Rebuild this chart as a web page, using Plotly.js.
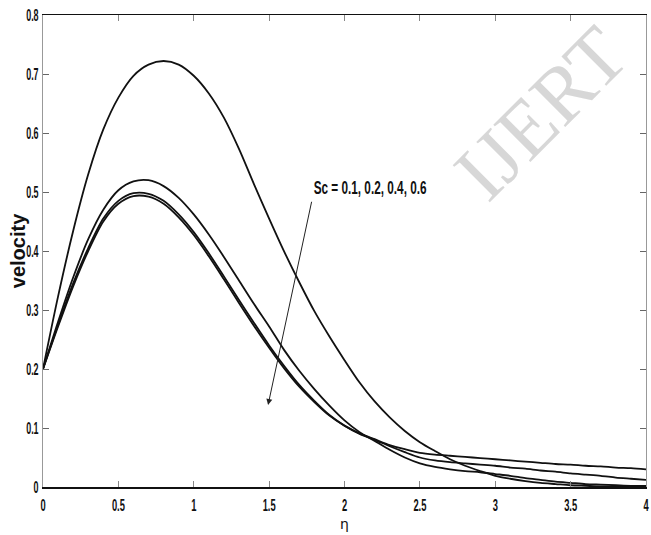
<!DOCTYPE html>
<html>
<head>
<meta charset="utf-8">
<script src="https://cdn.plot.ly/plotly-3.0.1.min.js"></script>
<style>html,body{margin:0;padding:0;background:#fff;}#chart{width:651px;height:535px;}</style>
</head>
<body>
<div id="chart"></div>
<script>
// eta grid (0 .. 4 step 0.1)
const eta = [0,0.1,0.2,0.3,0.4,0.5,0.6,0.7,0.8,0.9,1.0,1.1,1.2,1.3,1.4,1.5,1.6,1.7,1.8,1.9,2.0,
             2.1,2.2,2.3,2.4,2.5,2.6,2.7,2.8,2.9,3.0,3.1,3.2,3.3,3.4,3.5,3.6,3.7,3.8,3.9,4.0];

// velocity profiles for Sc = 0.1, 0.2, 0.4, 0.6
const velSc01 = [0.200,0.323,0.434,0.530,0.606,0.660,0.697,0.716,0.722,0.716,0.697,
                 0.667,0.626,0.573,0.513,0.455,0.399,0.347,0.298,0.255,0.215,
                 0.177,0.145,0.118,0.095,0.076,0.061,0.047,0.036,0.027,0.019,
                 0.014,0.010,0.007,0.005,0.003,0.002,0.001,0.001,0.0005,0.000];
const velSc02 = [0.200,0.280,0.355,0.420,0.470,0.503,0.518,0.520,0.510,0.490,0.462,
                 0.428,0.390,0.350,0.310,0.272,0.232,0.197,0.166,0.138,0.113,
                 0.093,0.078,0.063,0.050,0.040,0.034,0.030,0.027,0.025,0.022,
                 0.019,0.015,0.012,0.009,0.007,0.005,0.004,0.003,0.002,0.002];
const velSc04 = [0.200,0.275,0.345,0.405,0.455,0.485,0.498,0.497,0.485,0.462,0.432,
                 0.396,0.357,0.317,0.278,0.240,0.205,0.173,0.146,0.122,0.104,
                 0.090,0.080,0.069,0.059,0.050,0.045,0.042,0.040,0.038,0.036,
                 0.033,0.031,0.028,0.026,0.023,0.021,0.019,0.016,0.014,0.012];
const velSc06 = [0.200,0.272,0.340,0.400,0.450,0.480,0.493,0.492,0.480,0.457,0.427,
                 0.391,0.352,0.312,0.273,0.236,0.201,0.170,0.144,0.121,0.104,
                 0.091,0.081,0.071,0.064,0.058,0.055,0.053,0.051,0.049,0.047,
                 0.045,0.043,0.041,0.039,0.038,0.036,0.035,0.033,0.032,0.030];

const xTicks = [0,0.5,1,1.5,2,2.5,3,3.5,4];
const xTickText = ['0','0.5','1','1.5','2','2.5','3','3.5','4'];
const yTicks = [0,0.1,0.2,0.3,0.4,0.5,0.6,0.7,0.8];
const yTickText = ['0','0.1','0.2','0.3','0.4','0.5','0.6','0.7','0.8'];

const scLabel = 'Sc = 0.1, 0.2, 0.4, 0.6';
const arrowTail = [1.784, 0.486];
const arrowHead = [1.493, 0.139];

const series = [velSc01, velSc02, velSc04, velSc06];
const names = ['Sc = 0.1','Sc = 0.2','Sc = 0.4','Sc = 0.6'];

const traces = series.map((v,i) => ({
  x: eta, y: v, type: 'scatter', mode: 'lines', name: names[i],
  line: {color: '#111', width: 1.8, shape: 'spline', smoothing: 0.8}
}));

const narrow = 'Liberation Sans, Arial, sans-serif';

const layout = {
  width: 651, height: 535,
  margin: {l: 43, r: 5, t: 15, b: 48},
  paper_bgcolor: '#fff', plot_bgcolor: '#fff',
  showlegend: false,
  xaxis: {
    range: [0, 4], tickvals: xTicks, ticktext: xTickText,
    ticks: 'inside', ticklen: 6, tickcolor: '#888', tickwidth: 1,
    showline: true, linecolor: '#111', linewidth: 1.5, mirror: 'ticks',
    showgrid: false, zeroline: false, ticklabelstandoff: 2, ticklabeloverflow: 'allow',
    tickfont: {family: narrow, size: 17, color: '#111', weight: 'bold'},
    title: {text: 'η', font: {family: 'DejaVu Sans, sans-serif', size: 14, color: '#111'}, standoff: 5}
  },
  yaxis: {
    range: [0, 0.8], tickvals: yTicks, ticktext: yTickText,
    ticks: 'inside', ticklen: 6, tickcolor: '#666', tickwidth: 1,
    showline: true, linecolor: '#999', linewidth: 1.2, mirror: 'ticks',
    showgrid: false, zeroline: false, ticklabeloverflow: 'allow',
    tickfont: {family: narrow, size: 16, color: '#111', weight: 'bold'},
    title: {text: 'velocity', font: {family: 'Liberation Sans, Arial, sans-serif', size: 20, color: '#111', weight: 'bold'}, standoff: 2}
  },
  annotations: [
    {x: arrowHead[0], y: arrowHead[1], xref: 'x', yref: 'y',
     ax: arrowTail[0], ay: arrowTail[1], axref: 'x', ayref: 'y',
     text: '', showarrow: true, arrowhead: 2, arrowsize: 1.2, arrowwidth: 1, arrowcolor: '#222'},
    {x: 2.169, y: 0.508, xref: 'x', yref: 'y', xanchor: 'center', yanchor: 'middle',
     text: scLabel, showarrow: false,
     font: {family: narrow, size: 19, color: '#111', weight: 'bold'}},
    {x: 0.826, y: 0.792, xref: 'paper', yref: 'paper', xanchor: 'center', yanchor: 'middle',
     text: 'IJERT', showarrow: false,
     textangle: -45, font: {family: 'Liberation Serif, serif', size: 80, color: 'rgba(205,205,205,0.8)'}}
  ]
};

function squeeze(el, s) {
  const X = parseFloat(el.getAttribute('x')) || 0;
  const t = el.getAttribute('transform') || '';
  el.setAttribute('transform', t + ' translate(' + X + ',0) scale(' + s + ',1) translate(' + (-X) + ',0)');
}

Plotly.newPlot('chart', traces, layout, {displayModeBar: false, staticPlot: true}).then(gd => {
  gd.querySelectorAll('.xtick text').forEach(el => squeeze(el, 0.55));
  gd.querySelectorAll('.ytick text').forEach(el => squeeze(el, 0.56));
  const ann = gd.querySelector('g.annotation[data-index="1"] text.annotation-text');
  if (ann) squeeze(ann, 0.62);
  const yt = gd.querySelector('.ytitle');
  if (yt) {
    const x = parseFloat(yt.getAttribute('x')) + 7;
    const y = parseFloat(yt.getAttribute('y'));
    yt.setAttribute('x', x);
    yt.setAttribute('transform', 'rotate(-90,' + x + ',' + y + ')');
  }
});
</script>
</body>
</html>
